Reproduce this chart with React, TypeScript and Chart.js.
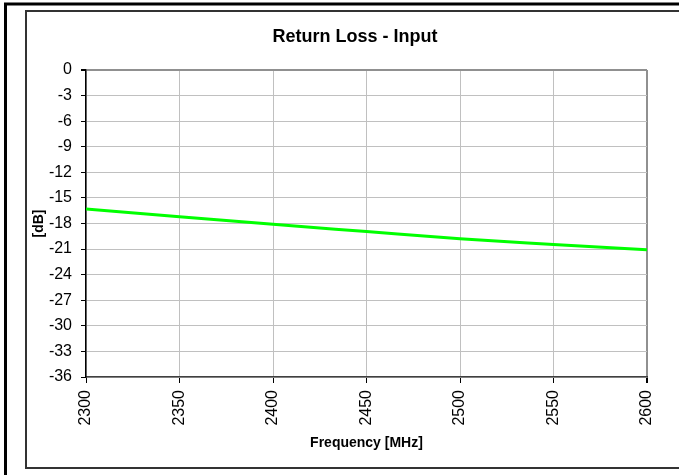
import React, { useEffect, useRef } from "react";
import { Chart, registerables } from "chart.js";

Chart.register(...registerables);

const frequencies = [2300, 2350, 2400, 2450, 2500, 2550, 2600];
const returnLoss = [-16.3, -17.2, -18.1, -18.95, -19.8, -20.45, -21.07];
const chartTitle = "Return Loss - Input";
const xTitle = "Frequency [MHz]";
const yTitle = "[dB]";

const FONT = "'Liberation Sans', Arial, sans-serif";

const framePlugin = {
  id: "frames",
  beforeDraw(chart: any) {
    const ctx = chart.ctx;
    ctx.save();
    ctx.fillStyle = "#ffffff";
    ctx.fillRect(0, 0, chart.width, chart.height);
    ctx.strokeStyle = "#000000";
    ctx.lineWidth = 3;
    ctx.beginPath();
    ctx.moveTo(5.5, 480);
    ctx.lineTo(5.5, 4);
    ctx.lineTo(690, 4);
    ctx.stroke();
    ctx.strokeStyle = "#333333";
    ctx.lineWidth = 2;
    ctx.strokeRect(26, 11, 700, 457);
    ctx.restore();
  },
  afterDraw(chart: any) {
    const ctx = chart.ctx;
    ctx.save();
    ctx.fillStyle = "#000000";
    ctx.font = `bold 18px ${FONT}`;
    ctx.textAlign = "center";
    ctx.textBaseline = "middle";
    ctx.fillText(chartTitle, 355, 37.5);
    ctx.restore();
  },
};

export default function App() {
  const ref = useRef<HTMLCanvasElement | null>(null);
  useEffect(() => {
    if (!ref.current) return;
    const chart = new Chart(ref.current, {
      type: "line",
      data: {
        datasets: [
          {
            label: chartTitle,
            data: frequencies.map((f, i) => ({ x: f, y: returnLoss[i] })),
            borderColor: "#00ff00",
            borderWidth: 3,
            pointRadius: 0,
            cubicInterpolationMode: "monotone",
            fill: false,
          },
        ],
      },
      options: {
        responsive: false,
        animation: false,
        layout: { padding: { left: 26, top: 70, right: 32, bottom: 7 } },
        plugins: {
          legend: { display: false },
          title: { display: false },
          tooltip: { enabled: false },
        },
        scales: {
          x: {
            type: "linear",
            min: 2300,
            max: 2600,
            afterFit: (s: any) => {
              s.height = 91;
            },
            ticks: {
              stepSize: 50,
              minRotation: 90,
              maxRotation: 90,
              color: "#000",
              padding: 7,
              font: { family: FONT, size: 16 },
              callback: (v: any) => String(v),
            },
            grid: {
              color: (c: any) => (c.tick && c.tick.value === 2600 ? "#909090" : "#c0c0c0"),
              lineWidth: (c: any) => (c.tick && c.tick.value === 2600 ? 2 : 1),
              tickColor: "#000",
              tickLength: 6,
            },
            border: { color: "#404040", width: 1.5 },
            title: {
              display: true,
              text: xTitle,
              color: "#000",
              font: { family: FONT, size: 14, weight: "bold" },
              padding: { top: 0, bottom: 16 },
            },
          },
          y: {
            min: -36,
            max: 0,
            afterFit: (s: any) => {
              s.width = 60;
            },
            ticks: {
              stepSize: 3,
              color: "#000",
              padding: 9,
              font: { family: FONT, size: 16 },
            },
            grid: {
              color: (c: any) => (c.tick && c.tick.value === 0 ? "#909090" : "#c0c0c0"),
              lineWidth: (c: any) => (c.tick && c.tick.value === 0 ? 2 : 1),
              tickColor: "#000",
              tickLength: 5,
            },
            border: { color: "#000", width: 1.5 },
            title: {
              display: true,
              text: yTitle,
              color: "#000",
              font: { family: FONT, size: 14, weight: "bold" },
              padding: { top: 5, bottom: 0 },
            },
          },
        },
      },
      plugins: [framePlugin],
    } as any);
    return () => chart.destroy();
  }, []);
  return (
    <div style={{ position: "fixed", left: 0, top: 0, width: 679, height: 475, background: "#fff" }}>
      <canvas ref={ref} width={679} height={475} style={{ display: "block", width: 679, height: 475 }} />
    </div>
  );
}
